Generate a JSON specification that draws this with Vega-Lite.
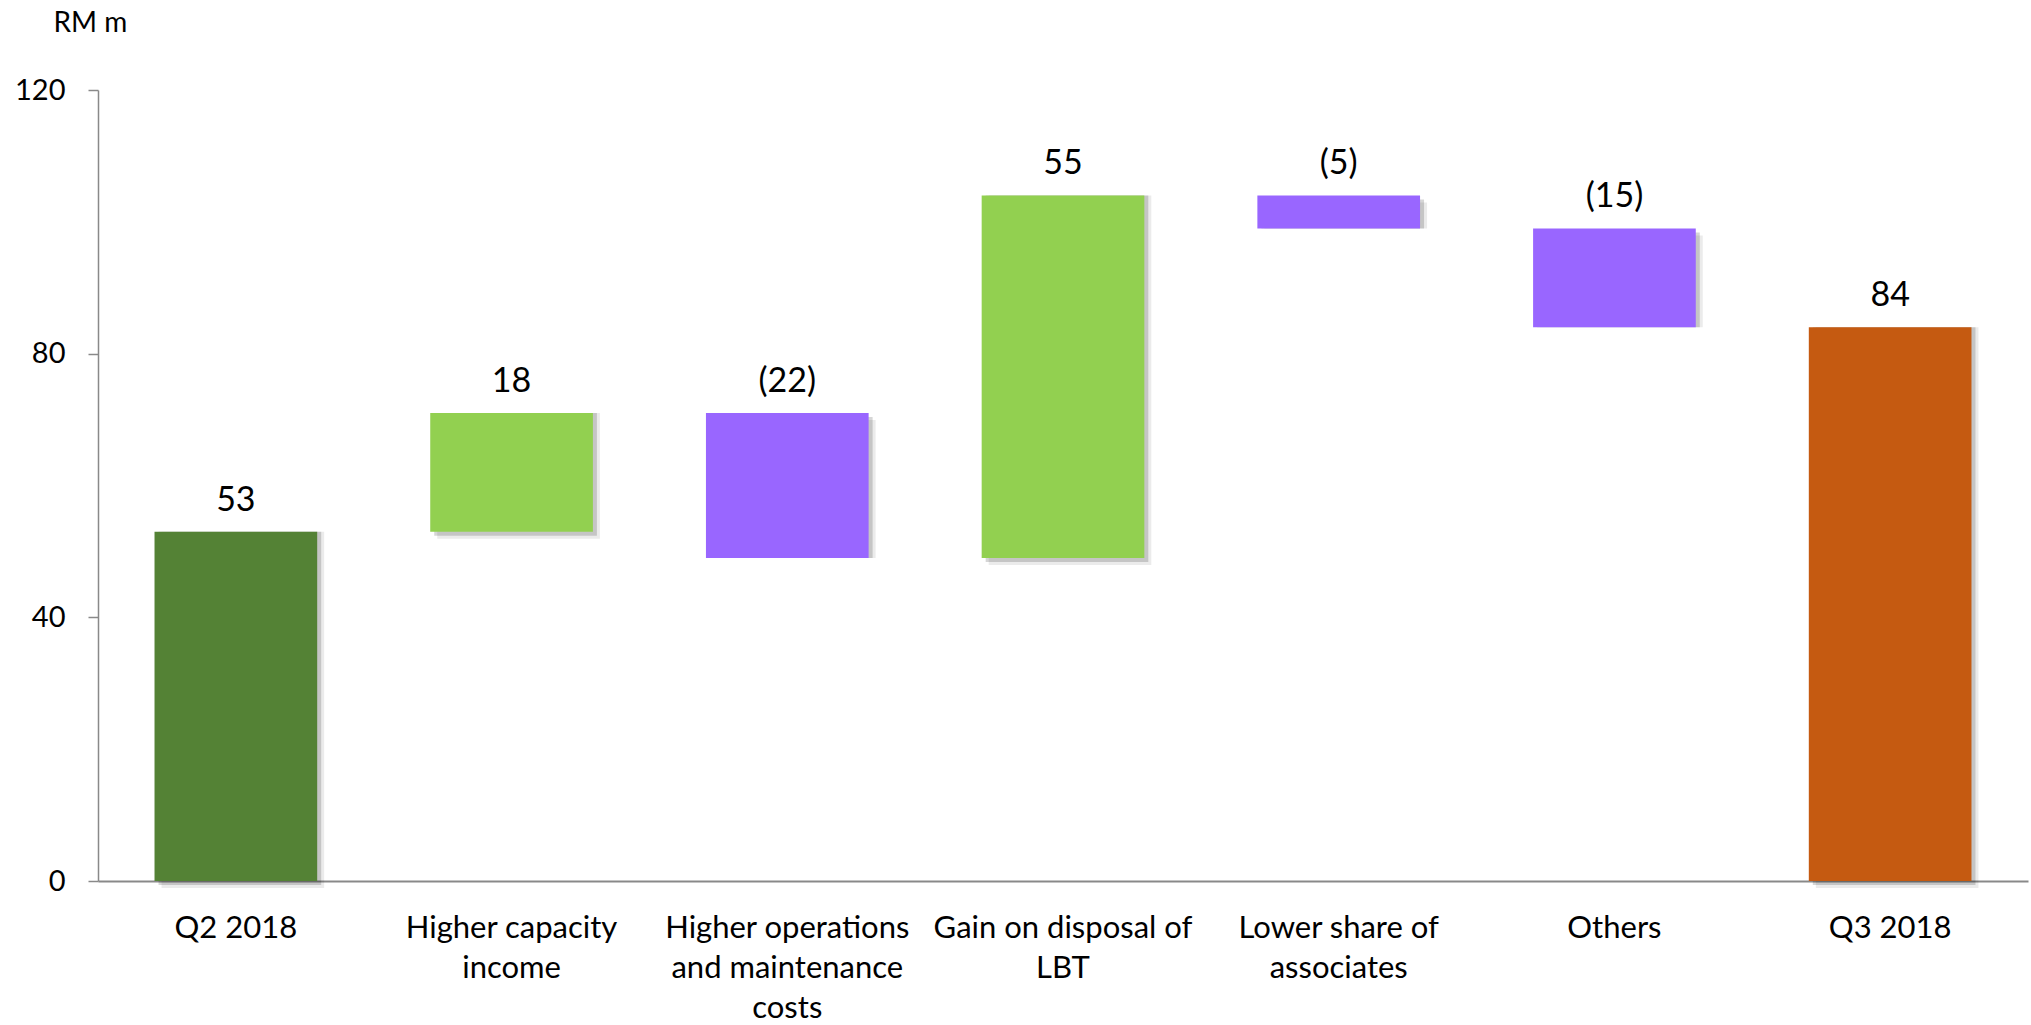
{
  "$schema": "https://vega.github.io/schema/vega-lite/v6.json",
  "autosize": {"type": "none"},
  "padding": {"left": 98, "top": 90, "right": 3, "bottom": 144},
  "width": 1930,
  "height": 791,
  "background": "white",
  "config": {
    "view": {"stroke": null},
    "font": "Lato",
    "axis": {"labelFont": "Lato", "titleFont": "Lato", "labelColor": "#000000", "titleColor": "#000000"}
  },
  "data": {
    "values": [
      {"category": "Q2 2018", "start": 0, "end": 53, "label": "53", "kind": "start"},
      {"category": "Higher capacity income", "start": 53, "end": 71, "label": "18", "kind": "increase"},
      {"category": "Higher operations and maintenance costs", "start": 71, "end": 49, "label": "(22)", "kind": "decrease"},
      {"category": "Gain on disposal of LBT", "start": 49, "end": 104, "label": "55", "kind": "increase"},
      {"category": "Lower share of associates", "start": 104, "end": 99, "label": "(5)", "kind": "decrease"},
      {"category": "Others", "start": 99, "end": 84, "label": "(15)", "kind": "decrease"},
      {"category": "Q3 2018", "start": 0, "end": 84, "label": "84", "kind": "end"}
    ]
  },
  "transform": [{"calculate": "max(datum.start, datum.end)", "as": "top"}],
  "encoding": {
    "x": {
      "field": "category",
      "type": "nominal",
      "sort": null,
      "scale": {"paddingInner": 0.41, "paddingOuter": 0.205},
      "axis": {
        "title": null,
        "labelAngle": 0,
        "ticks": false,
        "domainColor": "#898989",
        "domainWidth": 2,
        "labelFontSize": 31,
        "labelLineHeight": 40,
        "labelPadding": 32,
        "labelLimit": 400,
        "labelExpr": "datum.value == 'Higher capacity income' ? ['Higher capacity', 'income'] : datum.value == 'Higher operations and maintenance costs' ? ['Higher operations', 'and maintenance', 'costs'] : datum.value == 'Gain on disposal of LBT' ? ['Gain on disposal of', 'LBT'] : datum.value == 'Lower share of associates' ? ['Lower share of', 'associates'] : datum.value"
      }
    }
  },
  "layer": [
    {
      "mark": {"type": "bar", "color": "#000000", "opacity": 0.08, "xOffset": 7, "yOffset": 7},
      "encoding": {
        "y": {"field": "start", "type": "quantitative"},
        "y2": {"field": "end"}
      }
    },
    {
      "mark": {"type": "bar", "color": "#000000", "opacity": 0.16, "xOffset": 4, "yOffset": 4},
      "encoding": {
        "y": {"field": "start", "type": "quantitative"},
        "y2": {"field": "end"}
      }
    },
    {
      "mark": {"type": "bar"},
      "encoding": {
        "y": {
          "field": "start",
          "type": "quantitative",
          "scale": {"domain": [0, 120], "nice": false, "zero": true},
          "axis": {
            "values": [0, 40, 80, 120],
            "grid": false,
            "domainColor": "#898989",
            "domainWidth": 1.5,
            "tickColor": "#898989",
            "tickWidth": 1.5,
            "tickSize": 10,
            "labelPadding": 23,
            "labelFontSize": 29,
            "title": "RM m",
            "titleAngle": 0,
            "titleFontSize": 28,
            "titleFontWeight": "normal",
            "titleAlign": "left",
            "titleBaseline": "middle",
            "titleX": -45,
            "titleY": -67
          }
        },
        "y2": {"field": "end"},
        "color": {
          "field": "kind",
          "type": "nominal",
          "legend": null,
          "scale": {
            "domain": ["start", "increase", "decrease", "end"],
            "range": ["#548235", "#92D050", "#9966FF", "#C55A11"]
          }
        }
      }
    },
    {
      "mark": {"type": "text", "fontSize": 34, "baseline": "alphabetic", "dy": -21, "color": "#000000"},
      "encoding": {
        "y": {"field": "top", "type": "quantitative"},
        "text": {"field": "label"}
      }
    }
  ]
}
